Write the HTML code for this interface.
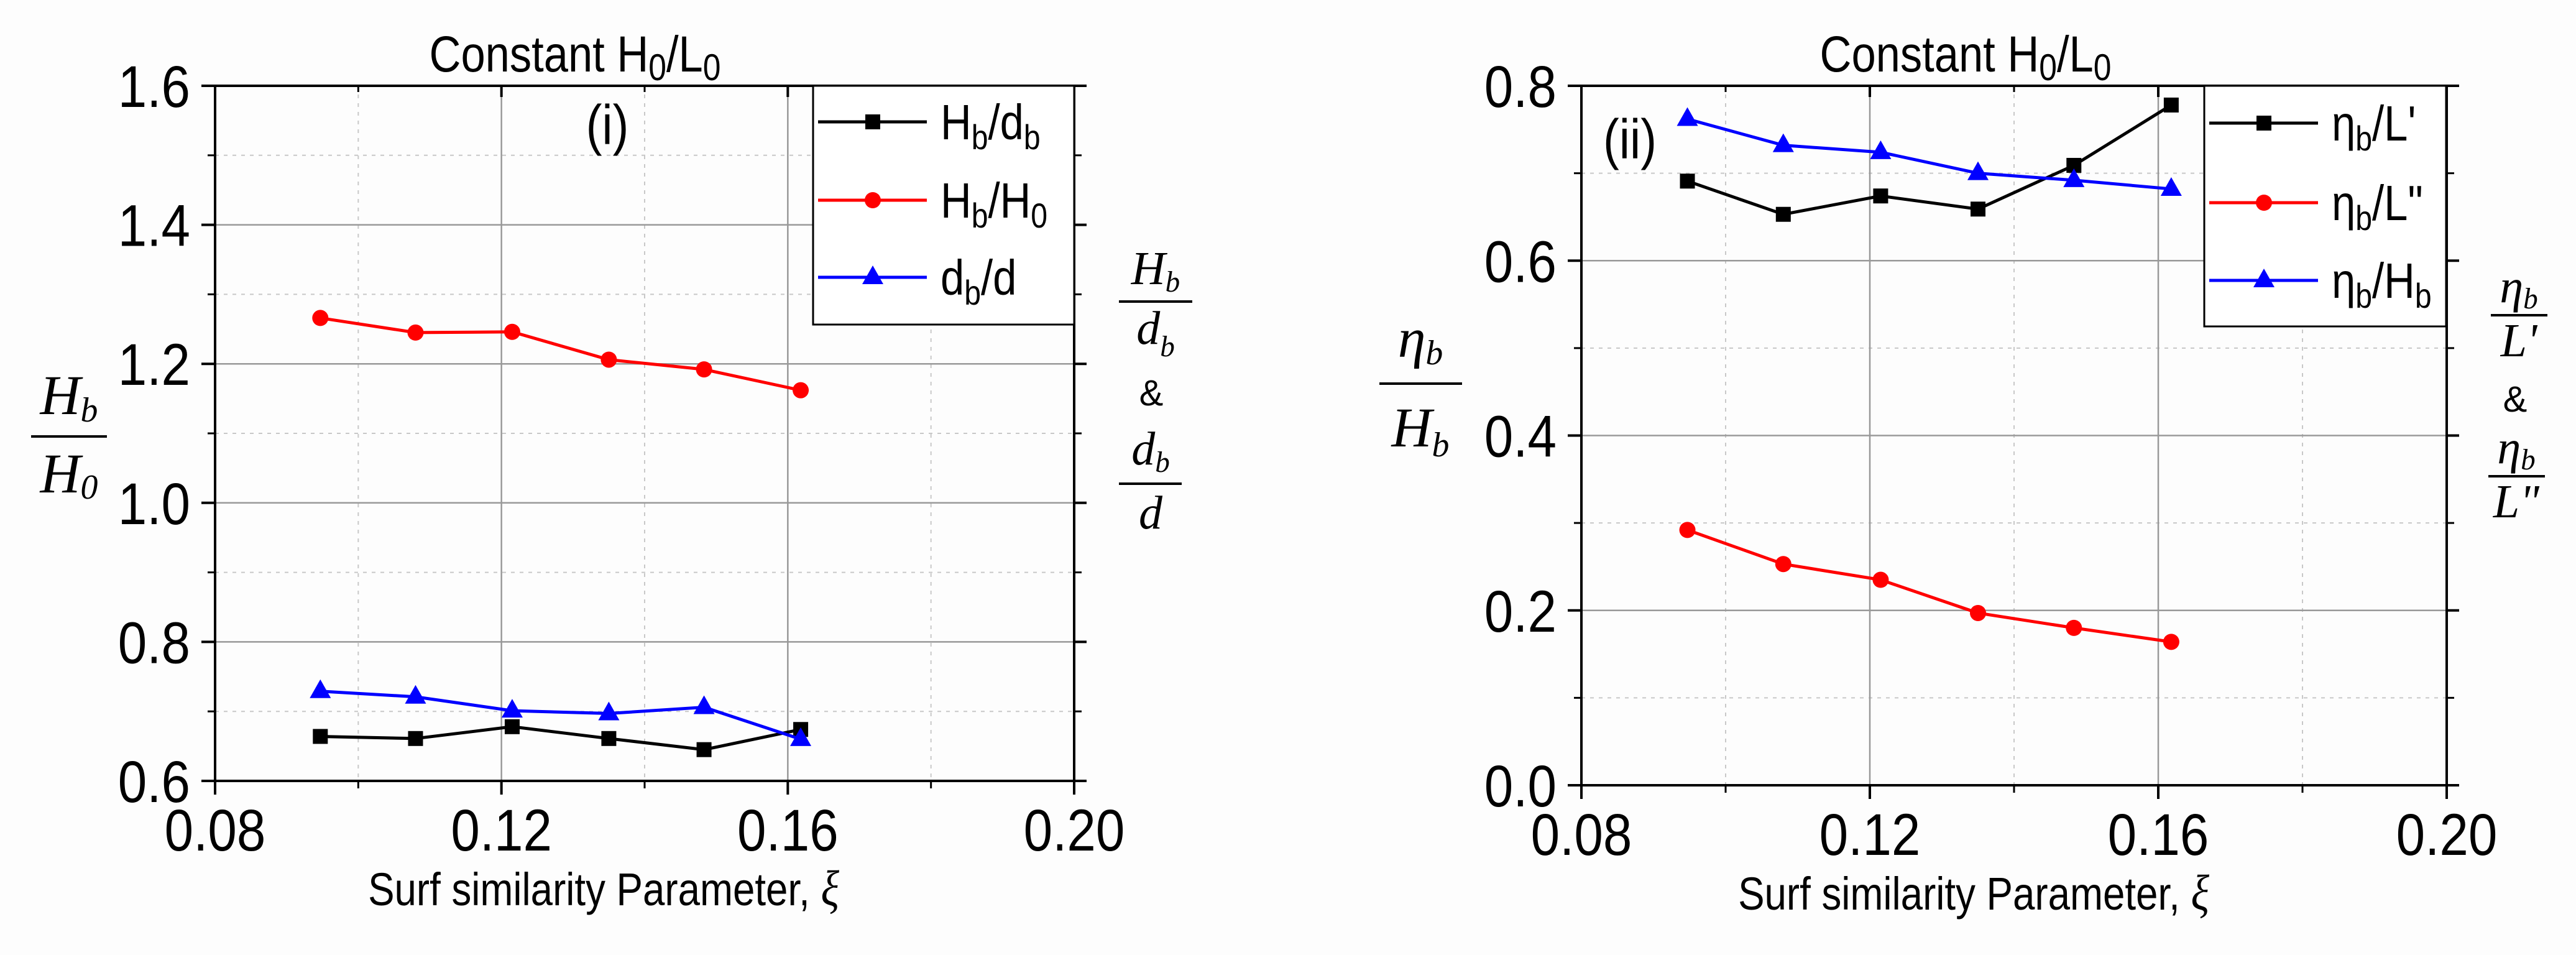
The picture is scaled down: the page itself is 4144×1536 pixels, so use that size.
<!DOCTYPE html>
<html><head><meta charset="utf-8"><style>
html,body{margin:0;padding:0;background:#fdfdfd;}
svg{display:block;}
</style></head><body>
<svg id="fig" xmlns="http://www.w3.org/2000/svg" width="4144" height="1536" viewBox="0 0 4144 1536"></svg>
<script>
// ---- data ----
const xi = [0.0947, 0.108, 0.1215, 0.135, 0.1483, 0.1618];
const hbdb = [0.664, 0.661, 0.678, 0.661, 0.645, 0.674];
const hbh0 = [1.266, 1.245, 1.246, 1.206, 1.192, 1.162];
const dbd = [0.729, 0.721, 0.701, 0.697, 0.706, 0.660];
const etaL1 = [0.691, 0.653, 0.674, 0.659, 0.709, 0.778];
const etaL2 = [0.292, 0.253, 0.235, 0.197, 0.180, 0.164];
const etaHb = [0.762, 0.732, 0.724, 0.700, 0.692, 0.682];
const xTicks = [0.08, 0.12, 0.16, 0.20];
const xTickLabels = ["0.08", "0.12", "0.16", "0.20"];
const yTicksA = [0.6, 0.8, 1.0, 1.2, 1.4, 1.6];
const yTickLabelsA = ["0.6", "0.8", "1.0", "1.2", "1.4", "1.6"];
const yTicksB = [0.0, 0.2, 0.4, 0.6, 0.8];
const yTickLabelsB = ["0.0", "0.2", "0.4", "0.6", "0.8"];

const NS = "http://www.w3.org/2000/svg";
const svg = document.getElementById("fig");
function el(tag, attrs, parent) {
  const e = document.createElementNS(NS, tag);
  for (const k in attrs) e.setAttribute(k, attrs[k]);
  (parent || svg).appendChild(e);
  return e;
}
const SANS = '"Liberation Sans", Arial, sans-serif';
const SERIF = '"Liberation Serif", "Times New Roman", serif';
function sans(x, y, size, anchor, parent, sx) {
  const t = el("text", {transform: "translate(" + x + "," + y + ") scale(" + (sx || 0.86) + ",1)",
    "font-family": SANS, "font-size": size, "text-anchor": anchor, fill: "#000"}, parent);
  return t;
}
function span(t, str, size, dy) {
  const s = el("tspan", {"font-size": size}, t);
  if (dy) s.setAttribute("dy", dy);
  s.textContent = str;
  return s;
}

function makePlot(cfg) {
  const g = el("g", {});
  
  
  const X = v => cfg.x0 + (v - 0.08) / 0.12 * (cfg.x1 - cfg.x0);
  const Y = v => cfg.yb - (v - cfg.ymin) / (cfg.ymax - cfg.ymin) * (cfg.yb - cfg.yt);
  const minorX = [0.10, 0.14, 0.18];
  minorX.forEach(v => {
    const l = el("line", {x1: X(v), x2: X(v), y1: cfg.yt, y2: cfg.yb, stroke: "#c8c8c8", "stroke-width": 2, "stroke-dasharray": "6,8"}, g);
    
    
  });
  for (let i = 0; i < cfg.yt_.length - 1; i++) {
    const v = (cfg.yt_[i] + cfg.yt_[i + 1]) / 2;
    const l = el("line", {x1: cfg.x0, x2: cfg.x1, y1: Y(v), y2: Y(v), stroke: "#c8c8c8", "stroke-width": 2, "stroke-dasharray": "6,8"}, g);
    
    
    el("line", {x1: cfg.x0 - 12, x2: cfg.x0, y1: Y(v), y2: Y(v), stroke: "#000", "stroke-width": 3}, g);
    el("line", {x1: cfg.x1, x2: cfg.x1 + 12, y1: Y(v), y2: Y(v), stroke: "#000", "stroke-width": 3}, g);
  }
  [0.12, 0.16].forEach(v => {
    const l = el("line", {x1: X(v), x2: X(v), y1: cfg.yt, y2: cfg.yb, stroke: "#999", "stroke-width": 2.5}, g);
    
    
  });
  cfg.yt_.forEach((v, i) => {
    if (i > 0 && i < cfg.yt_.length - 1) {
      const l = el("line", {x1: cfg.x0, x2: cfg.x1, y1: Y(v), y2: Y(v), stroke: "#999", "stroke-width": 2.5}, g);
      
      
    }
    el("line", {x1: cfg.x0 - 22, x2: cfg.x0, y1: Y(v), y2: Y(v), stroke: "#000", "stroke-width": 4}, g);
    el("line", {x1: cfg.x1, x2: cfg.x1 + 20, y1: Y(v), y2: Y(v), stroke: "#000", "stroke-width": 4}, g);
    const t = sans(cfg.x0 - 40, Y(v) + 34, 95, "end", g, 0.88);
    t.textContent = cfg.ytl[i];
    
    
  });
  [0.10, 0.14, 0.18].forEach(v => {
    el("line", {x1: X(v), x2: X(v), y1: cfg.yb, y2: cfg.yb + 12, stroke: "#000", "stroke-width": 3}, g);
    el("line", {x1: X(v), x2: X(v), y1: cfg.yt, y2: cfg.yt + 10, stroke: "#000", "stroke-width": 3}, g);
  });
  xTicks.forEach((v, i) => {
    el("line", {x1: X(v), x2: X(v), y1: cfg.yb, y2: cfg.yb + 22, stroke: "#000", "stroke-width": 4}, g);
    el("line", {x1: X(v), x2: X(v), y1: cfg.yt, y2: cfg.yt + 18, stroke: "#000", "stroke-width": 4}, g);
    const t = sans(X(v), cfg.yb + 112, 95, "middle", g, 0.88);
    t.textContent = xTickLabels[i];
    
    
  });
  const fr = el("rect", {x: cfg.x0, y: cfg.yt, width: cfg.x1 - cfg.x0, height: cfg.yb - cfg.yt, fill: "none", stroke: "#000", "stroke-width": 4}, g);
  
  
  cfg.series.forEach(s => {
    const sg = el("g", {}, g);
    
    
    const pts = xi.map((x, i) => X(x) + "," + Y(s.vals[i])).join(" ");
    el("polyline", {points: pts, fill: "none", stroke: s.color, "stroke-width": 5}, sg);
    xi.forEach((x, i) => drawMarker(sg, s.marker, X(x), Y(s.vals[i]), s.color));
  });
  const lg = el("g", {}, g);
  
  
  el("rect", {x: cfg.lx0, y: cfg.yt, width: cfg.lx1 - cfg.lx0, height: cfg.ly1 - cfg.yt, fill: "#fff", stroke: "#000", "stroke-width": 3}, lg);
  cfg.series.forEach((s, i) => {
    const ey = cfg.ley[i];
    const eg = el("g", {}, lg);
    
    
    el("line", {x1: cfg.lx0 + 8, x2: cfg.lx0 + 183, y1: ey, y2: ey, stroke: s.color, "stroke-width": 5}, eg);
    drawMarker(eg, s.marker, cfg.lx0 + 96, ey, s.color);
    const t = sans(cfg.lx0 + 205, ey + 28, 80, "start", eg, 0.86);
    s.label(t);
  });
  const tt = sans(cfg.tx, 115, 82, "middle", g, 0.86);
  span(tt, "Constant H", 82); span(tt, "0", 60, 14); span(tt, "/L", 82, -14); span(tt, "0", 60, 14);
  
  
  const pl = sans(cfg.px, cfg.py, 90, "middle", g, 0.86);
  pl.textContent = cfg.panel;
  
  
  const xt = sans(cfg.xtx, cfg.yb + 200, 74, "middle", g, 0.86);
  span(xt, "Surf similarity Parameter, ", 74);
  const xs = el("tspan", {"font-family": SERIF, "font-style": "italic", "font-size": 80}, xt);
  xs.textContent = "ξ";
  
  
  return g;
}

function drawMarker(parent, type, x, y, color) {
  if (type === "square") {
    el("rect", {x: x - 12, y: y - 12, width: 24, height: 24, fill: color}, parent);
  } else if (type === "circle") {
    el("circle", {cx: x, cy: y, r: 13, fill: color}, parent);
  } else {
    el("polygon", {points: (x - 17) + "," + (y + 11) + " " + (x + 17) + "," + (y + 11) + " " + x + "," + (y - 19), fill: color}, parent);
  }
}

function frac(name, cx, lineY, x0, x1, num, den, numY, denY, size) {
  const g = el("g", {});
  
  
  el("line", {x1: x0, x2: x1, y1: lineY, y2: lineY, stroke: "#000", "stroke-width": 4}, g);
  [[num, numY], [den, denY]].forEach(([parts, y]) => {
    const t = el("text", {x: cx, y: y, "font-family": SERIF, "font-style": "italic", "font-size": size, "text-anchor": "middle", fill: "#000"}, g);
    span(t, parts[0], size);
    if (parts[1]) span(t, parts[1], size * 0.62, parts[2] || 0);
  });
  return g;
}
function amp(x, y, size) {
  const t = el("text", {x: x, y: y, "font-family": SANS, "font-size": size, "text-anchor": "middle", fill: "#000"});
  t.textContent = "&";
  
  
}

// ---- Plot (i) ----
makePlot({
  name: "plot-i", x0: 346, x1: 1728, yt: 138, yb: 1256, ymin: 0.6, ymax: 1.6,
  yt_: yTicksA, ytl: yTickLabelsA,
  lx0: 1308, lx1: 1728, ly1: 522, ley: [196, 322, 446],
  tx: 925, px: 977, py: 232, panel: "(i)", xtx: 971,
  series: [
    {name: "series-hb-db", vals: hbdb, color: "#000", marker: "square",
     label: t => { span(t, "H", 80); span(t, "b", 56, 16); span(t, "/d", 80, -16); span(t, "b", 56, 16); }},
    {name: "series-hb-h0", vals: hbh0, color: "#ff0000", marker: "circle",
     label: t => { span(t, "H", 80); span(t, "b", 56, 16); span(t, "/H", 80, -16); span(t, "0", 56, 16); }},
    {name: "series-db-d", vals: dbd, color: "#0000ff", marker: "triangle",
     label: t => { span(t, "d", 80); span(t, "b", 56, 16); span(t, "/d", 80, -16); }}
  ]
});
frac("y-axis-title-left-i", 111, 702, 50, 172, ["H", "b", 12], ["H", "0", 10], 666, 792, 90);
frac("y-axis-title-right-i-top", 1859, 485, 1800, 1918, ["H", "b", 12], ["d", "b", 20], 457, 553, 76);
amp(1852, 652, 58);
frac("y-axis-title-right-i-bottom", 1851, 778, 1800, 1901, ["d", "b", 12], ["d"], 747, 850, 76);

// ---- Plot (ii) ----
makePlot({
  name: "plot-ii", x0: 2544, x1: 3936, yt: 138, yb: 1263, ymin: 0.0, ymax: 0.8,
  yt_: yTicksB, ytl: yTickLabelsB,
  lx0: 3546, lx1: 3935, ly1: 525, ley: [198, 326, 451],
  tx: 3162, px: 2622, py: 255, panel: "(ii)", xtx: 3175,
  series: [
    {name: "series-eta-l1", vals: etaL1, color: "#000", marker: "square",
     label: t => { span(t, "η", 80); span(t, "b", 56, 16); span(t, "/L'", 80, -16); }},
    {name: "series-eta-l2", vals: etaL2, color: "#ff0000", marker: "circle",
     label: t => { span(t, "η", 80); span(t, "b", 56, 16); span(t, "/L\"", 80, -16); }},
    {name: "series-eta-hb", vals: etaHb, color: "#0000ff", marker: "triangle",
     label: t => { span(t, "η", 80); span(t, "b", 56, 16); span(t, "/H", 80, -16); span(t, "b", 56, 16); }}
  ]
});
frac("y-axis-title-left-ii", 2285, 617, 2219, 2352, ["η", "b", 12], ["H", "b", 16], 574, 718, 90);
frac("y-axis-title-right-ii-top", 4052, 507, 4007, 4098, ["η", "b", 10], ["L'"], 486, 573, 76);
amp(4046, 662, 58);
frac("y-axis-title-right-ii-bottom", 4048, 766, 4003, 4094, ["η", "b", 10], ["L\""], 745, 832, 76);
</script>
</body></html>
